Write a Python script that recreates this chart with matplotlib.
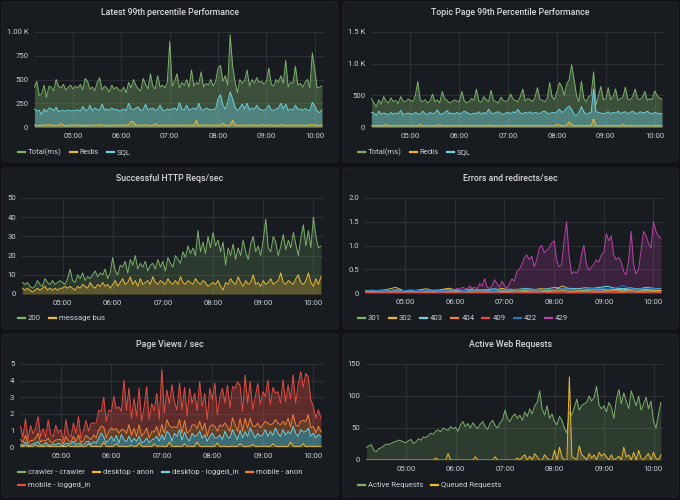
import numpy as np
import matplotlib
matplotlib.use("Agg")
import matplotlib.pyplot as plt
from matplotlib.patches import FancyBboxPatch
from matplotlib.lines import Line2D
from matplotlib.transforms import IdentityTransform

plt.rcParams['font.family'] = ['Roboto', 'DejaVu Sans']

W, H = 680, 500
BG = '#111217'
PANEL = '#181b1f'
GRID = '#2c2f34'
TXT = '#c7d0d9'
GREEN, YELLOW, TEAL, ORANGE = '#7eb26d', '#eab839', '#6ed0e0', '#ef843c'
RED, BLUE, PURPLE = '#e24d42', '#1f78c1', '#ba43a9'

# time axis, minutes after 04:00 (one sample every 3 min from 04:12)
t = 12 + 3 * np.arange(120)
t40 = np.linspace(12, 369, 40)
hour_ticks = [60, 120, 180, 240, 300, 360]
hour_labels = ['05:00', '06:00', '07:00', '08:00', '09:00', '10:00']

# --- Latest 99th percentile Performance (ms)
latest_total = [420, 480, 330, 350, 440, 310, 430, 420, 380, 500, 430, 410, 450, 390, 420, 440,
                400, 430, 410, 450, 390, 510, 480, 400, 420, 380, 470, 520, 390, 430, 410, 370, 440, 400, 420, 390,
                380, 420, 360, 470, 410, 500, 440, 400, 380, 510, 450, 400, 560, 430, 400, 540, 420, 440, 410, 470,
                900, 430, 480, 560, 410, 470, 440, 500, 420, 600, 430, 470, 450, 580, 420, 460, 440, 500, 430, 480,
                620, 650, 480, 540, 440, 970, 650, 480, 360, 500, 460, 490, 600, 430, 500, 460, 520, 470, 480, 450,
                480, 620, 450, 430, 500, 470, 540, 460, 700, 420, 470, 460, 640, 440, 460, 420, 470, 500, 410, 780, 600, 410, 420, 430]
latest_redis = [20, 18, 15, 20, 22, 20, 25, 20, 18, 20, 20, 35, 20, 15, 18, 20,
                18, 20, 22, 18, 20, 15, 18, 20, 22, 18, 20, 25, 20, 18, 15, 20, 18, 22, 20, 18,
                20, 18, 22, 20, 60, 55, 18, 20, 22, 18, 22, 20, 18, 20, 35, 20, 18, 20, 22, 18,
                20, 18, 22, 20, 18, 20, 20, 18, 22, 20, 18, 70, 15, 20, 18, 22, 20, 18, 20, 22,
                20, 18, 40, 20, 18, 22, 70, 25, 18, 20, 22, 18, 20, 18, 22, 20, 18, 20, 22, 20,
                18, 20, 22, 18, 20, 18, 22, 20, 18, 20, 22, 18, 20, 18, 22, 20, 18, 20, 22, 25, 20, 18, 20, 22]
latest_sql = [190, 170, 175, 130, 190, 160, 200, 195, 170, 210, 160, 170, 175, 165, 180, 170,
              170, 175, 180, 165, 215, 180, 175, 230, 170, 200, 185, 175, 240, 180, 190, 175, 200, 180, 185, 170,
              175, 190, 170, 250, 190, 180, 200, 210, 175, 180, 240, 175, 190, 200, 175, 185, 230, 180, 170, 190,
              180, 190, 200, 175, 255, 190, 180, 230, 175, 190, 200, 180, 250, 185, 175, 200, 190, 180, 185, 190,
              300, 340, 230, 190, 260, 370, 300, 210, 170, 200, 240, 190, 250, 180, 200, 185, 230, 190, 180, 175,
              190, 230, 180, 175, 190, 200, 250, 190, 240, 175, 190, 180, 230, 185, 190, 175, 195, 180, 170, 260, 220, 170, 150, 180]

# --- Topic Page 99th Percentile Performance (ms)
topic_total = [450, 380, 320, 430, 360, 480, 410, 380, 460, 400, 420, 370, 480, 410, 400, 440,
               420, 400, 500, 720, 420, 400, 430, 380, 410, 520, 400, 430, 380, 560, 450, 420, 380, 400, 430, 410,
               400, 560, 420, 380, 400, 450, 420, 600, 410, 390, 480, 430, 400, 580, 420, 400, 380, 470, 420, 400,
               430, 520, 440, 420, 400, 480, 600, 410, 450, 430, 400, 470, 620, 440, 420, 400, 450, 700, 480, 430,
               560, 700, 640, 500, 680, 750, 980, 750, 500, 400, 720, 450, 400, 480, 500, 870, 350, 500, 640, 430,
               450, 620, 430, 480, 600, 420, 450, 470, 630, 440, 430, 480, 600, 450, 430, 470, 560, 420, 450, 430, 570, 500, 450, 440]
topic_redis = [20, 18, 22, 20, 25, 20, 40, 20, 18, 22, 20, 18, 20, 22, 20, 18,
               20, 22, 18, 20, 40, 20, 18, 22, 20, 18, 20, 22, 35, 20, 18, 20, 22, 20, 18, 20,
               20, 22, 18, 20, 22, 20, 18, 25, 20, 22, 18, 20, 30, 20, 18, 22, 20, 18, 20, 22,
               20, 18, 22, 20, 18, 22, 20, 18, 25, 20, 22, 18, 20, 22, 20, 18, 22, 20, 18, 20,
               40, 30, 22, 20, 35, 80, 40, 22, 18, 20, 22, 20, 18, 22, 20, 130, 22, 20, 18, 20,
               20, 22, 18, 20, 22, 20, 18, 40, 20, 18, 22, 20, 18, 20, 22, 20, 18, 22, 20, 18, 20, 22, 20, 18]
topic_sql = [230, 220, 180, 250, 200, 220, 210, 190, 230, 200, 220, 210, 260, 200, 210, 220,
             210, 200, 230, 210, 200, 250, 210, 200, 230, 210, 220, 270, 210, 200, 230, 260, 210, 220, 200, 230,
             210, 220, 250, 230, 210, 200, 220, 210, 240, 200, 230, 210, 280, 220, 210, 230, 240, 210, 200, 220,
             230, 210, 240, 220, 280, 220, 210, 230, 220, 240, 210, 230, 220, 210, 240, 250, 220, 210, 230, 220,
             240, 280, 230, 250, 300, 330, 280, 200, 180, 230, 320, 240, 200, 220, 230, 600, 240, 230, 220, 210,
             220, 240, 210, 230, 220, 250, 210, 230, 240, 210, 230, 250, 220, 210, 240, 230, 220, 250, 220, 210, 230, 220, 210, 210]

# --- Successful HTTP Reqs/sec
http_200 = [6, 5, 6, 4, 3, 4, 7, 5, 4, 8, 6, 5, 7, 5, 6, 7,
            6, 5, 8, 13, 7, 6, 10, 8, 11, 7, 9, 8, 10, 12, 9, 11, 10, 13, 8, 11,
            19, 12, 10, 15, 14, 17, 11, 18, 15, 20, 13, 16, 14, 17, 12, 15, 16, 13, 18, 14,
            17, 12, 19, 16, 14, 20, 18, 16, 22, 19, 25, 21, 24, 20, 33, 22, 27, 21, 30, 24,
            32, 25, 28, 22, 27, 15, 24, 20, 26, 18, 24, 20, 28, 22, 18, 26, 30, 22, 25, 20,
            28, 39, 24, 22, 30, 27, 20, 25, 31, 23, 28, 24, 32, 26, 20, 29, 36, 25, 33, 24, 40, 30, 24, 25]
http_bus = [3, 2, 3, 2, 1, 2, 3, 2, 3, 4, 2, 3, 2, 3, 2, 3,
            3, 4, 3, 4, 3, 2, 4, 3, 5, 4, 3, 6, 4, 3, 5, 4, 6, 4, 5, 3,
            5, 7, 4, 6, 8, 5, 6, 9, 5, 7, 4, 8, 5, 6, 7, 5, 9, 6, 5, 7,
            6, 5, 8, 6, 5, 7, 5, 9, 6, 5, 7, 6, 5, 8, 6, 5, 7, 6, 4, 5,
            6, 5, 7, 4, 2, 6, 5, 8, 6, 5, 9, 6, 4, 7, 5, 6, 10, 5, 6, 4,
            7, 5, 6, 8, 5, 6, 7, 11, 6, 5, 7, 6, 5, 8, 10, 6, 5, 7, 11, 6, 4, 8, 5, 9]

# --- Errors and redirects/sec
err_429 = [.05, .04, .06, .05, .04, .05, .06, .04, .05, .06, .05, .04, .05, .06, .05, .04,
           .05, .04, .06, .05, .05, .04, .06, .05, .04, .06, .05, .05, .04, .06, .05, .08, .06, .10, .05, .06,
           .07, .10, .08, .12, .10, .08, .15, .10, .12, .09, .20, .15, .30, .12, .10, .15, .28, .20, .12, .25,
           .15, .10, .20, .30, .25, .45, .50, .60, .75, .80, .70, .78, .55, .70, .95, 1.0, .85, .90, .95, 1.05,
           1.1, .70, .55, .60, 1.1, 1.5, .80, .40, .45, .42, .50, .80, 1.0, .60, .48, .55, .60, .70, .65, .80,
           .85, 1.25, 1.1, 1.2, .80, .70, .75, .65, .45, .38, .70, 1.3, .60, .40, .50, .90, 1.3, 1.2, 1.05, .95, 1.5, 1.3, 1.2, 1.15]
err_301 = [.05, .06, .04, .05, .07, .05, .04, .06, .05, .05, .06, .04, .05, .06, .05, .07, .05, .06, .04, .05,
           .06, .05, .07, .06, .05, .06, .05, .07, .06, .05, .06, .07, .05, .06, .05, .07, .06, .05, .06, .05]
err_302 = [.04, .03, .05, .08, .12, .05, .04, .06, .09, .05, .07, .10, .06, .05, .08, .06, .07, .05, .10, .06,
           .08, .07, .06, .09, .08, .07, .15, .08, .06, .07, .09, .08, .06, .07, .08, .06, .09, .07, .06, .05]
err_403 = [.03, .04, .06, .05, .04, .05, .06, .05, .04, .06, .05, .07, .06, .05, .08, .06, .07, .09, .06, .08,
           .07, .10, .08, .07, .09, .12, .08, .10, .09, .11, .10, .12, .14, .10, .09, .11, .08, .12, .10, .09]
err_404 = [.02, .03, .02, .02, .03, .02, .03, .02, .02, .03, .03, .02, .03, .04, .03, .02, .03, .04, .03, .03,
           .04, .03, .04, .03, .03, .04, .05, .03, .04, .03, .04, .03, .04, .05, .03, .04, .03, .04, .03, .04]
err_409 = [.01, .01, .02, .01, .01, .01, .02, .01, .01, .01, .02, .01, .01, .02, .01, .01, .01, .02, .01, .01,
           .02, .01, .01, .02, .01, .01, .02, .01, .01, .02, .01, .01, .02, .01, .01, .02, .01, .01, .02, .01]
err_422 = [.04, .05, .05, .06, .04, .05, .06, .05, .05, .06, .05, .06, .07, .05, .06, .07, .06, .05, .07, .06,
           .07, .08, .06, .07, .08, .07, .09, .08, .07, .08, .10, .09, .09, .10, .16, .09, .08, .10, .09, .08]

# --- Page Views / sec (stacked)
pv_crawler = [0.0] * 120
pv_desktop_anon = [.05, .03, .1, .02, .05, .04, .15, .03, .05, .02, .08, .04, .03, .05, .02, .04,
                   .05, .03, .04, .1, .03, .05, .02, .04, .06, .03, .05, .2, .04, .03, .05, .02, .04, .3, .05, .03,
                   .04, .05, .2, .03, .05, .04, .02, .05, .1, .03, .04, .25, .05, .03, .04, .05, .02, .2, .04, .05,
                   .05, .03, .04, .3, .05, .03, .04, .05, .02, .2, .04, .05, .03, .04, .3, .05, .03, .04, .05, .03,
                   .04, .05, .25, .03, .04, .05, .02, .04, .05, .03, .04, .2, .05, .03, .04, .05, .15, .04, .03, .05,
                   .04, .05, .03, .04, .2, .05, .03, .04, .05, .02, .04, .3, .05, .03, .04, .05, .2, .03, .04, .05, .03, .04, .05, .03]
pv_desktop_logged = [.1, .05, .2, .1, .05, .15, .1, .3, .05, .1, .2, .1, .05, .15, .1, .2,
                     .1, .05, .2, .1, .15, .3, .1, .2, .05, .1, .25, .15, .1, .3, .2, .5, .8, .3, .2, .4,
                     .6, .3, .5, .2, .7, .4, .3, .6, .2, .5, .3, .4, .2, .3, .5, .2, .4, .3, .6, .3,
                     .7, .4, .9, .5, .3, .8, .6, 1.0, .4, .7, .5, .3, .8, .6, .4, .9, .5, .7, .3, .6,
                     .8, .5, .3, .7, .4, .9, .6, .5, 1.0, .7, .4, .8, .5, .9, .6, 1.1, .7, .5, .8, .6,
                     .7, 1.0, .6, .9, .5, 1.1, .8, .6, 1.0, .7, .9, .5, 1.2, .8, .6, 1.0, .7, .9, 1.1, .6, .8, .5, .7, .6]
pv_mobile_anon = [.3, .2, .4, .1, .3, .2, .3, .5, .2, .3, .1, .4, .2, .1, .3, .2,
                  .3, .1, .4, .2, .1, .3, .2, .5, .1, .3, .4, .2, .3, .4, .3, .5, .4, .6, .3, .5,
                  .5, .7, .4, .6, .3, .6, .5, .7, .4, .6, .3, .7, .4, .5, .6, .3, .5, .4, .6, .3,
                  .6, .4, .7, .5, .8, .4, .5, .6, .4, .7, .3, .6, .5, .7, .4, .6, .5, .7, .3, .6,
                  .5, .7, .4, .6, .8, .5, .6, .4, .7, .6, .5, .7, .4, .8, .5, .6, .4, .7, .6, .5,
                  .6, .5, .8, .4, .7, .5, .6, .7, .5, .6, .8, .4, .7, .5, .6, .5, .7, .6, .8, .5, .4, .3, .5, .3]
pv_mobile_logged = [.8, .3, 1.0, .2, .9, .4, .6, 1.0, .3, .7, .2, 1.1, .5, .3, .9, .4,
                    .6, .2, 1.0, .4, .3, .8, .5, 1.1, .3, .6, .9, .4, 1.0, .7, .9, 1.2, .9, 1.8, 1.0, 1.3,
                    1.0, 2.0, 1.2, 1.6, 1.1, 3.0, 1.4, 2.2, 1.0, 1.8, 1.2, 2.2, .9, 1.6, 2.5, 1.1, 1.7, 1.3, 2.0, 1.0,
                    3.3, 1.2, 1.8, 1.3, 2.6, 1.5, 1.1, 2.2, 1.4, 2.0, 1.0, 2.6, 1.3, 1.9, 1.1, 2.4, 1.4, 1.8, 1.0, 2.3,
                    1.5, 2.6, 1.0, 1.7, 2.3, 1.2, 2.5, 1.4, 1.9, 2.2, 3.0, 2.0, 1.2, 2.6, 1.5, 2.2, 1.0, 1.8, 2.4, 1.4,
                    2.0, 1.5, 2.6, 1.2, 2.2, 1.6, 1.9, 1.3, 2.5, 1.4, 2.0, 1.7, 2.4, 1.3, 2.5, 3.0, 2.0, 2.9, 2.3, 1.7, 1.2, .9, 1.0, .8]

# --- Active Web Requests
active_req = [20, 22, 24, 15, 13, 18, 19, 22, 25, 24, 26, 28, 29, 31, 30, 28,
              27, 30, 32, 26, 28, 33, 31, 36, 35, 38, 42, 40, 45, 47, 44, 50, 48, 46, 52, 49,
              51, 45, 55, 60, 52, 57, 50, 58, 53, 49, 56, 60, 52, 48, 57, 62, 54, 50, 58, 63,
              78, 65, 60, 68, 72, 65, 70, 62, 75, 68, 80, 72, 85, 90, 108, 80, 70, 85, 65, 72,
              60, 55, 68, 62, 50, 42, 75, 70, 82, 95, 78, 85, 88, 90, 100, 92, 98, 115, 86, 80,
              85, 75, 90, 82, 65, 95, 110, 88, 105, 92, 80, 108, 96, 85, 100, 78, 88, 98, 80, 92, 60, 50, 72, 90]
queued_req = [0, 0, 0, 0, 0, 0, 0, 0, 0, 0, 0, 0, 0, 0, 0, 0,
              0, 0, 0, 0, 0, 0, 0, 0, 0, 0, 0, 0, 3, 0, 0, 0, 0, 10, 0, 0,
              0, 0, 0, 0, 0, 0, 0, 0, 5, 0, 0, 0, 0, 0, 0, 0, 5, 0, 0, 0,
              0, 0, 0, 0, 0, 3, 0, 5, 8, 0, 6, 0, 10, 5, 0, 0, 8, 3, 0, 0,
              15, 0, 20, 5, 0, 0, 130, 5, 3, 0, 22, 8, 5, 0, 10, 3, 8, 0, 12, 6,
              10, 5, 0, 8, 0, 3, 6, 0, 20, 5, 8, 0, 12, 0, 15, 3, 0, 6, 10, 0, 12, 3, 0, 8]

fig = plt.figure(figsize=(W / 100, H / 100), dpi=100, facecolor=BG)
px = IdentityTransform()


def panel(x0, y0, x1, y1, title):
    p = FancyBboxPatch((x0, H - y1), x1 - x0, y1 - y0, boxstyle='round,pad=0,rounding_size=3',
                       transform=px, fc=PANEL, ec='#202328', lw=0.8, zorder=-10)
    fig.patches.append(p)
    fig.text((x0 + x1) / 2, H - (y0 + 10.5), title, transform=px, ha='center', va='center',
             fontsize=6.3, fontweight='medium', color='#d8d9da')


def make_ax(x0, y0, x1, y1, ymax, yticks, ylabels):
    ax = fig.add_axes([x0 / W, 1 - y1 / H, (x1 - x0) / W, (y1 - y0) / H])
    ax.set_facecolor('none')
    for s in ax.spines.values():
        s.set_visible(False)
    ax.set_xlim(11.5, 371.5)
    ax.set_ylim(0, ymax)
    ax.set_xticks(hour_ticks, hour_labels)
    ax.set_yticks(yticks, ylabels)
    ax.grid(True, color=GRID, lw=0.8)
    ax.set_axisbelow(True)
    ax.tick_params(length=0, labelsize=5.6, colors=TXT, pad=4)
    return ax


def legend(x, y, items):
    r = fig.canvas.get_renderer()
    for label, color in items:
        fig.add_artist(Line2D([x, x + 7], [H - y, H - y], transform=px, color=color, lw=1.6))
        txt = fig.text(x + 10, H - y, label, transform=px, ha='left', va='center',
                       fontsize=5.6, color=TXT)
        x += 10 + txt.get_window_extent(r).width + 8


def series(ax, x, y, color, alpha, lw=0.7, base=0):
    ax.fill_between(x, base, y, color=color, alpha=alpha, lw=0)
    ax.plot(x, y, color=color, lw=lw)


# panels
panel(2, 2, 338, 162, 'Latest 99th percentile Performance')
panel(343, 2, 678, 162, 'Topic Page 99th Percentile Performance')
panel(2, 168, 338, 329, 'Successful HTTP Reqs/sec')
panel(343, 168, 678, 329, 'Errors and redirects/sec')
panel(2, 334, 338, 497, 'Page Views / sec')
panel(343, 334, 678, 497, 'Active Web Requests')

ax1 = make_ax(34, 32, 324, 127, 1000, [0, 250, 500, 750, 1000], ['0', '250', '500', '750', '1.00 K'])
series(ax1, t, latest_total, GREEN, 0.35)
series(ax1, t, latest_sql, TEAL, 0.4)
series(ax1, t, latest_redis, YELLOW, 0.35)
legend(18, 152, [('Total(ms)', GREEN), ('Redis', YELLOW), ('SQL', TEAL)])

ax2 = make_ax(371, 32, 664, 127, 1500, [0, 500, 1000, 1500], ['0', '500', '1.0 K', '1.5 K'])
series(ax2, t, topic_total, GREEN, 0.35)
series(ax2, t, topic_sql, TEAL, 0.4)
series(ax2, t, topic_redis, YELLOW, 0.35)
legend(358, 152, [('Total(ms)', GREEN), ('Redis', YELLOW), ('SQL', TEAL)])

ax3 = make_ax(22, 198, 323, 294, 50, [0, 10, 20, 30, 40, 50], ['0', '10', '20', '30', '40', '50'])
series(ax3, t, http_200, GREEN, 0.2)
series(ax3, t, http_bus, YELLOW, 0.25)
legend(18, 318, [('200', GREEN), ('message bus', YELLOW)])

ax4 = make_ax(365, 198, 663, 293, 2, [0, 0.5, 1.0, 1.5, 2.0], ['0', '0.5', '1.0', '1.5', '2.0'])
series(ax4, t, err_429, PURPLE, 0.22)
for vals, col in [(err_301, GREEN), (err_302, YELLOW), (err_403, TEAL), (err_404, ORANGE),
                  (err_409, RED), (err_422, BLUE)]:
    series(ax4, t40, vals, col, 0.1)
legend(358, 318, [('301', GREEN), ('302', YELLOW), ('403', TEAL), ('404', ORANGE),
                  ('409', RED), ('422', BLUE), ('429', PURPLE)])

ax5 = make_ax(20, 364, 323, 447, 5, [0, 1, 2, 3, 4, 5], ['0', '1', '2', '3', '4', '5'])
base = np.zeros(len(t))
for vals, col, a in [(pv_crawler, GREEN, 0.3), (pv_desktop_anon, YELLOW, 0.3),
                     (pv_desktop_logged, TEAL, 0.45), (pv_mobile_anon, ORANGE, 0.35),
                     (pv_mobile_logged, RED, 0.35)]:
    top = base + np.array(vals)
    series(ax5, t, top, col, a, base=base)
    base = top
legend(18, 472, [('crawler - crawler', GREEN), ('desktop - anon', YELLOW),
                 ('desktop - logged_in', TEAL), ('mobile - anon', ORANGE)])
legend(18, 485, [('mobile - logged_in', RED)])

ax6 = make_ax(366, 364, 663, 460, 150, [0, 50, 100, 150], ['0', '50', '100', '150'])
series(ax6, t, active_req, GREEN, 0.22)
series(ax6, t, queued_req, YELLOW, 0.2)
legend(358, 485, [('Active Requests', GREEN), ('Queued Requests', YELLOW)])

fig.savefig('out.png', dpi=100, facecolor=BG)
